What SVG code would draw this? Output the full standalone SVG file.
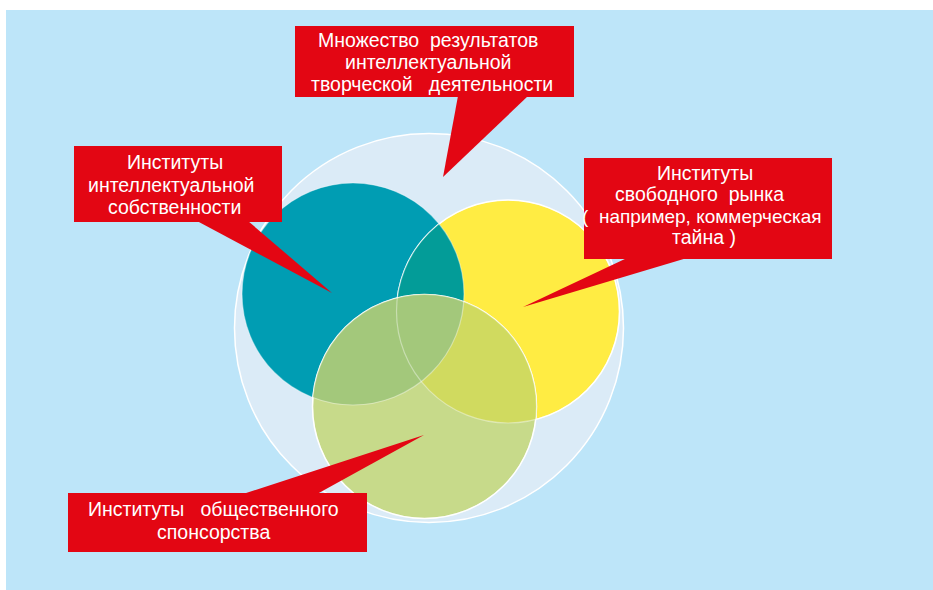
<svg xmlns="http://www.w3.org/2000/svg" width="933" height="590" viewBox="0 0 933 590" xml:space="preserve">
<style>
.box{fill:#e30613}
.tail{fill:#e30613}
.lbl{font-family:"Liberation Sans",Arial,sans-serif;font-size:19.5px;fill:#ffffff;white-space:pre}
.sm{font-size:19px}
.faint{fill:none;stroke:#ffffff;stroke-opacity:0.4;stroke-width:1.2}
</style>
<defs>
<clipPath id="cTeal"><circle cx="353" cy="294" r="111"/></clipPath>
<clipPath id="cYellow"><circle cx="508" cy="311.5" r="111.5"/></clipPath>
</defs>
<rect x="6" y="10" width="927" height="580" fill="#bde5f9"/>
<g id="outer-set">
<circle cx="429" cy="328" r="194.5" fill="#dbebf7" stroke="#ffffff" stroke-width="1.5"/>
</g>
<g id="circle-ip">
<circle cx="353" cy="294" r="111" fill="#009db3"/>
</g>
<g id="circle-market">
<circle cx="508" cy="311.5" r="111.5" fill="#ffec43" stroke="#ffffff" stroke-width="1.5"/>
<circle cx="508" cy="311.5" r="111.5" fill="#039c98" clip-path="url(#cTeal)"/>
</g>
<g id="circle-sponsor">
<circle cx="424.5" cy="406.5" r="112" fill="#c7da8a" stroke="#ffffff" stroke-width="1.5"/>
<circle cx="424.5" cy="406.5" r="112" fill="#d0da5f" clip-path="url(#cYellow)"/>
<circle cx="424.5" cy="406.5" r="112" fill="#a3c87b" clip-path="url(#cTeal)"/>
</g>
<g id="outlines">
<circle class="faint" cx="353" cy="294" r="111"/>
<circle class="faint" cx="508" cy="311.5" r="111.5"/>
<circle class="faint" cx="424.5" cy="406.5" r="112"/>
</g>
<g id="connectors">
<polygon class="tail" points="458,96 528,96 443,177"/>
<polygon class="tail" points="197,221 248,221 332,293"/>
<polygon class="tail" points="627,258 687,258 523,307"/>
<polygon class="tail" points="243,494 317,494 424,435"/>
</g>
<g id="callout-results">
<rect class="box" x="295" y="26" width="279" height="71"/>
<text class="lbl" x="318" y="47">Множество  результатов</text>
<text class="lbl" x="345" y="69">интеллектуальной</text>
<text class="lbl" x="311" y="91">творческой   деятельности</text>
</g>
<g id="callout-ip">
<rect class="box" x="74" y="146" width="208" height="76"/>
<text class="lbl" x="127" y="169">Институты</text>
<text class="lbl" x="88" y="192">интеллектуальной</text>
<text class="lbl" x="108" y="214">собственности</text>
</g>
<g id="callout-market">
<rect class="box" x="584" y="158" width="248" height="101"/>
<text class="lbl" x="657" y="180">Институты</text>
<text class="lbl" x="615" y="201">свободного  рынка</text>
<text class="lbl sm" x="582" y="223">(  например, коммерческая</text>
<text class="lbl" x="672" y="244">тайна )</text>
</g>
<g id="callout-sponsor">
<rect class="box" x="68" y="493" width="299" height="59"/>
<text class="lbl" x="88" y="516">Институты   общественного</text>
<text class="lbl" x="157" y="539">спонсорства</text>
</g>
</svg>
